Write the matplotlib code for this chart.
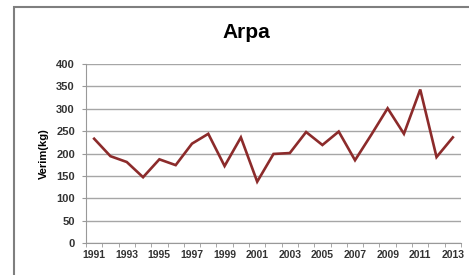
import matplotlib
matplotlib.use("Agg")
import matplotlib.pyplot as plt
from matplotlib.patches import Rectangle

# Arpa verim verileri
yillar = list(range(1991, 2014))
verim = [233, 194, 181, 147, 187, 174, 222, 244, 172, 236, 137, 199,
         201, 248, 219, 249, 185, 242, 301, 244, 343, 192, 236]
y_ticks = [0, 50, 100, 150, 200, 250, 300, 350, 400]

plt.rcParams['font.family'] = ['Liberation Sans', 'DejaVu Sans']

fig = plt.figure(figsize=(4.69, 2.75), dpi=100)
fig.patch.set_facecolor('white')

# cerceve (grafik alani kenari)
fig.patches.append(Rectangle((14/469, -0.1), 1.2, 1.1 - 7/275,
                             transform=fig.transFigure, fill=False,
                             edgecolor='#7f7f7f', lw=1.5))

ax = fig.add_axes([86/469, 32/275, 375/469, 179/275])
x = list(range(len(yillar)))
ax.plot(x, verim, color='#8c2b2b', lw=1.9, solid_joinstyle='miter')

ax.set_xlim(-0.5, len(yillar) - 0.5)
ax.set_ylim(0, 400)
ax.set_yticks(y_ticks)
ax.set_yticklabels([str(v) for v in y_ticks], fontsize=8, fontweight='bold',
                   color='#333333')
ax.set_xticks(x[::2])
ax.set_xticklabels([str(y) for y in yillar[::2]], fontsize=7.5,
                   fontweight='bold', color='#333333')
ax.set_xticks([i - 0.5 for i in range(len(yillar) + 1)], minor=True)
ax.tick_params(axis='x', which='major', length=0, pad=5)
ax.tick_params(axis='x', which='minor', length=3, color='#999999')
ax.tick_params(axis='y', length=3, color='#999999', pad=5)

ax.grid(axis='y', color='#a6a6a6', lw=1)
ax.set_axisbelow(True)
for s in ['top', 'right']:
    ax.spines[s].set_visible(False)
ax.spines['left'].set_color('#999999')
ax.spines['bottom'].set_color('#999999')

ax.set_ylabel('Verim(kg)', fontsize=8, fontweight='bold', labelpad=5)
fig.text(246/469, 1 - 33/275, 'Arpa', ha='center', va='center',
         fontsize=15, fontweight='bold')

fig.savefig('out.png', dpi=100)
